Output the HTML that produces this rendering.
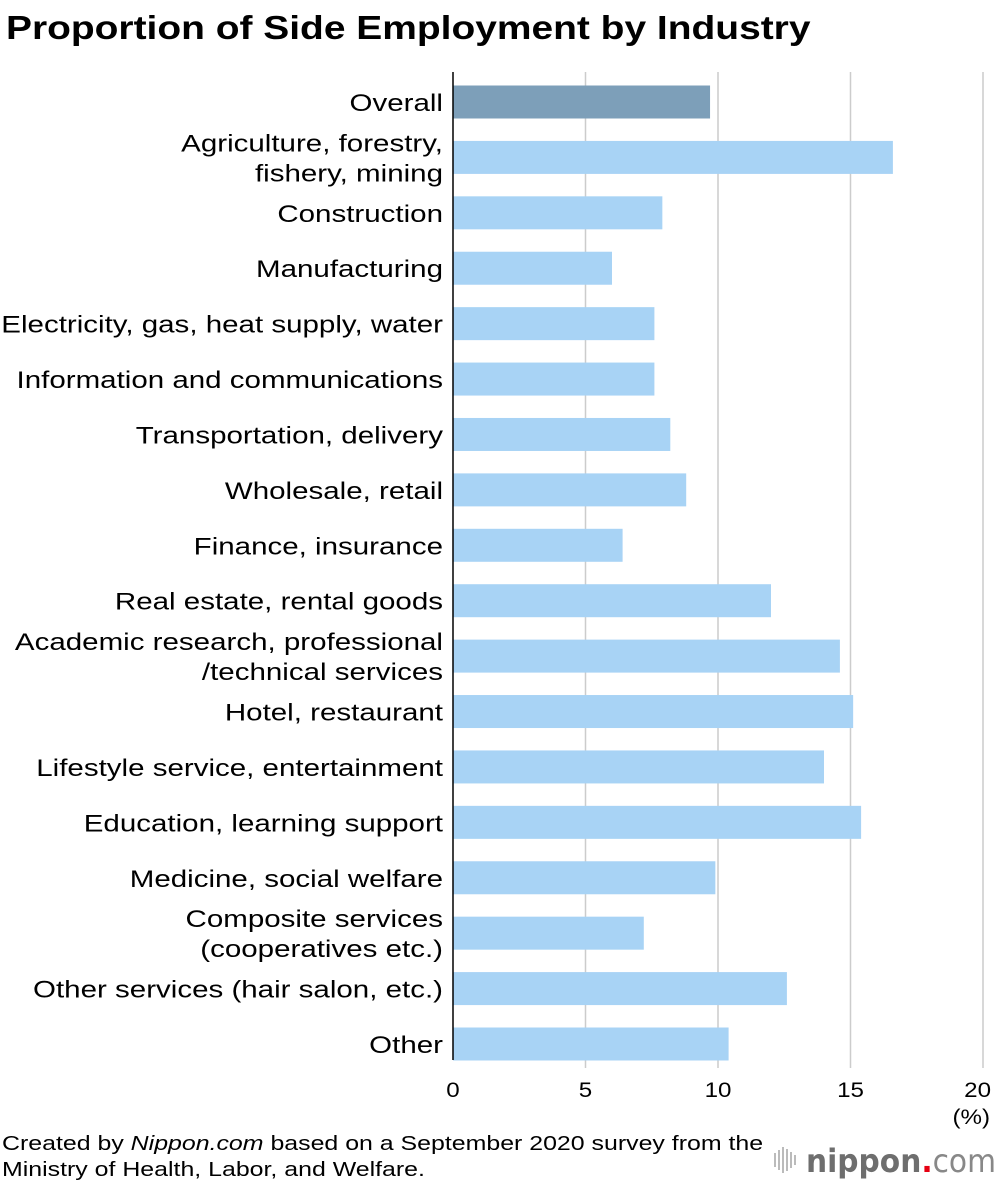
<!DOCTYPE html>
<html><head><meta charset="utf-8"><style>
body{margin:0;background:#fff;width:1000px;height:1186px;overflow:hidden;font-family:"Liberation Sans",Arial,sans-serif}
svg{display:block}
</style></head><body>
<svg id="chart" width="1000" height="1186">
<text x="6" y="39" font-size="33" font-weight="bold" fill="#000" transform="translate(6,0) scale(1.18,1) translate(-6,0)">Proportion of Side Employment by Industry</text>
<g id="grid"></g><g id="bars"></g><g id="labels"></g><g id="ticks"></g>
<line x1="453" y1="72" x2="453" y2="1060" stroke="#000" stroke-width="1.5"/>
<text x="990" y="1124" font-size="21" text-anchor="end" transform="translate(990,0) scale(1.15,1) translate(-990,0)">(%)</text>
<g transform="translate(2,0) scale(1.245,1) translate(-2,0)">
<text x="2" y="1150" font-size="20">Created by <tspan font-style="italic">Nippon.com</tspan> based on a September 2020 survey from the</text>
<text x="2" y="1176" font-size="20">Ministry of Health, Labor, and Welfare.</text>
</g>
<g>
<g fill="#bbb"><rect x="774" y="1153" width="2" height="14"/><rect x="778" y="1150" width="2" height="20"/><rect x="782" y="1147" width="2" height="26"/><rect x="786" y="1149" width="2" height="22"/><rect x="790" y="1152" width="2" height="16"/><rect x="794" y="1155" width="2" height="10"/></g>
<text x="806" y="1172" font-size="32" fill="#6e6e6e" font-weight="bold" font-family="DejaVu Sans, sans-serif" textLength="190" lengthAdjust="spacingAndGlyphs">nippon<tspan fill="#e60012">.</tspan><tspan font-weight="normal" fill="#888">com</tspan></text>
</g>
</svg>
<script>
const categories=["Overall",["Agriculture, forestry,","fishery, mining"],"Construction","Manufacturing","Electricity, gas, heat supply, water","Information and communications","Transportation, delivery","Wholesale, retail","Finance, insurance","Real estate, rental goods",["Academic research, professional","/technical services"],"Hotel, restaurant","Lifestyle service, entertainment","Education, learning support","Medicine, social welfare",["Composite services","(cooperatives etc.)"],"Other services (hair salon, etc.)","Other"];
const values=[9.7,16.6,7.9,6.0,7.6,7.6,8.2,8.8,6.4,12.0,14.6,15.1,14.0,15.4,9.9,7.2,12.6,10.4];
const ticks=[0,5,10,15,20];
const NS="http://www.w3.org/2000/svg";
const x0=453,pxPer=26.5,yFirst=102,pitch=(1044-102)/17,bh=33;
const xs=v=>x0+v*pxPer, ys=i=>yFirst+i*pitch;
function mk(t,a,p){const e=document.createElementNS(NS,t);for(const k in a)e.setAttribute(k,a[k]);p.appendChild(e);return e;}
const G=document.getElementById('grid'),B=document.getElementById('bars'),L=document.getElementById('labels'),T=document.getElementById('ticks');
L.setAttribute('transform','translate(443,0) scale(1.23,1) translate(-443,0)');
ticks.forEach(t=>{
 if(t>0){const l=mk('line',{x1:xs(t),x2:xs(t),y1:72,y2:1068,stroke:'#ccc','stroke-width':1.5},G);
 
 }
 const tx=mk('text',{x:xs(t),y:1097,'font-size':21,'text-anchor':t==20?'end':'middle'},T);
 const cx=t==20?xs(t)+8:xs(t);
 tx.setAttribute('x',cx);
 tx.setAttribute('transform','translate('+cx+',0) scale(1.15,1) translate('+(-cx)+',0)');
 tx.textContent=t;
 
 
});
values.forEach((v,i)=>{
 const r=mk('rect',{x:x0,y:ys(i)-bh/2,width:v*pxPer,height:bh,fill:i==0?'#7d9fb9':'#a8d3f5'},B);
 
 
 const c=categories[i],tx=mk('text',{x:443,'font-size':24,'text-anchor':'end',fill:'#000'},L);
 
 
 if(Array.isArray(c)){tx.setAttribute('y',ys(i)-6);c.forEach((s,j)=>{const sp=mk('tspan',{x:443,dy:j?30:0},tx);sp.textContent=s;});}
 else{tx.setAttribute('y',ys(i)+9);tx.textContent=c;}
});
</script>
</body></html>
